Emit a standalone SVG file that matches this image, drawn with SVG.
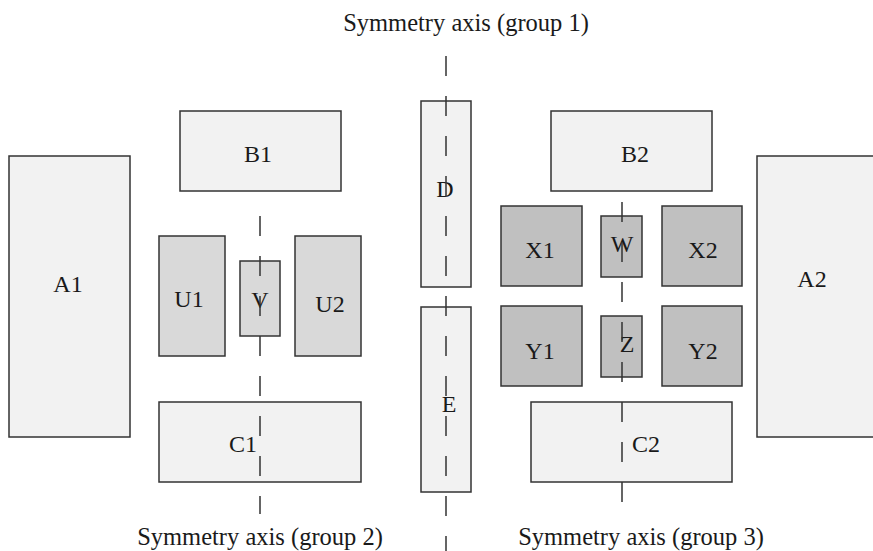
<svg xmlns="http://www.w3.org/2000/svg" width="873" height="551" viewBox="0 0 873 551">
<style>
rect{stroke:#333;stroke-width:1.5}
.l{fill:#f2f2f2}
.m{fill:#d9d9d9}
.d{fill:#c0c0c0}
text{font-family:"Liberation Serif","Times New Roman",serif;font-size:24px;fill:#1a1a1a;text-anchor:middle}
.ax{font-size:24.5px}
line{stroke:#333;stroke-width:1.5;stroke-dasharray:20 20}
</style>
<rect x="0" y="0" width="873" height="551" fill="#fff" style="stroke:none"/>
<g id="A1"><rect class="l" x="9" y="156" width="121" height="281"/><text x="68" y="292">A1</text></g>
<g id="A2"><rect class="l" x="757" y="156" width="125" height="281"/><text x="812" y="287">A2</text></g>
<g id="B1"><rect class="l" x="180" y="111" width="161" height="80"/><text x="258" y="162">B1</text></g>
<g id="B2"><rect class="l" x="551" y="111" width="161" height="80"/><text x="635" y="162">B2</text></g>
<g id="C1"><rect class="l" x="159" y="402" width="202" height="80"/><text x="243" y="452">C1</text></g>
<g id="C2"><rect class="l" x="531" y="402" width="201" height="80"/><text x="646" y="452">C2</text></g>
<g id="D"><rect class="l" x="421" y="101" width="50" height="186"/><text x="445" y="197">D</text></g>
<g id="E"><rect class="l" x="421" y="307" width="50" height="185"/><text x="449" y="412">E</text></g>
<g id="U1"><rect class="m" x="159" y="236" width="66" height="120"/><text x="189" y="307">U1</text></g>
<g id="U2"><rect class="m" x="295" y="236" width="66" height="120"/><text x="330" y="312">U2</text></g>
<g id="V"><rect class="m" x="240" y="261" width="40" height="75"/><text x="260" y="308">V</text></g>
<g id="X1"><rect class="d" x="501" y="206" width="81" height="80"/><text x="540" y="258">X1</text></g>
<g id="X2"><rect class="d" x="662" y="206" width="80" height="80"/><text x="703" y="258">X2</text></g>
<g id="W"><rect class="d" x="601" y="216" width="41" height="61"/><text x="622" y="252">W</text></g>
<g id="Y1"><rect class="d" x="501" y="306" width="81" height="80"/><text x="540" y="359">Y1</text></g>
<g id="Y2"><rect class="d" x="662" y="306" width="80" height="80"/><text x="703" y="359">Y2</text></g>
<g id="Z"><rect class="d" x="601" y="316" width="41" height="61"/><text x="627" y="352">Z</text></g>
<g id="connectors">
<line x1="446" y1="56" x2="446" y2="551"/>
<line x1="260" y1="216" x2="260" y2="514"/>
<line x1="622" y1="202" x2="622" y2="502"/>
</g>
<g id="labels">
<text class="ax" x="466" y="31">Symmetry axis (group 1)</text>
<text class="ax" x="260" y="545">Symmetry axis (group 2)</text>
<text class="ax" x="641" y="545">Symmetry axis (group 3)</text>
</g>
</svg>
